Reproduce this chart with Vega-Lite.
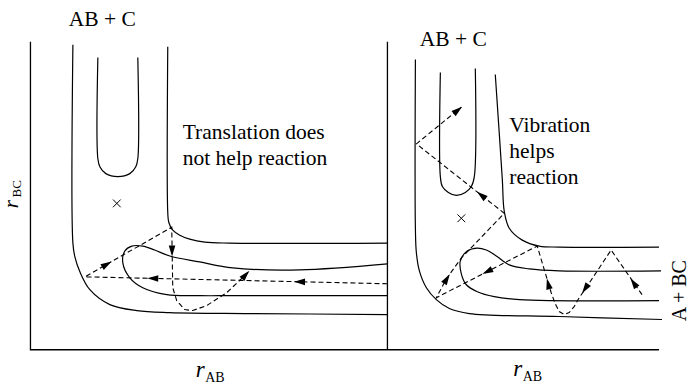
{
  "$schema": "https://vega.github.io/schema/vega-lite/v6.json",
  "width": 690,
  "height": 385,
  "padding": 0,
  "autosize": {"type": "fit", "contains": "padding"},
  "config": {"view": {"stroke": null}, "background": "white", "text": {"font": "Liberation Serif"}},
  "datasets": {
    "curves": [
      {"id": "L_outer", "i": 0, "x": 73, "y": 45}, {"id": "L_outer", "i": 1, "x": 73, "y": 245}, {"id": "L_outer", "i": 2, "x": 75, "y": 259}, {"id": "L_outer", "i": 3, "x": 80, "y": 274}, {"id": "L_outer", "i": 4, "x": 90, "y": 292}, {"id": "L_outer", "i": 5, "x": 110, "y": 307}, {"id": "L_outer", "i": 6, "x": 137, "y": 313}, {"id": "L_outer", "i": 7, "x": 170, "y": 315}, {"id": "L_outer", "i": 8, "x": 250, "y": 316}, {"id": "L_outer", "i": 9, "x": 388, "y": 317},
      {"id": "L_mid", "i": 0, "x": 168, "y": 47}, {"id": "L_mid", "i": 1, "x": 168, "y": 214}, {"id": "L_mid", "i": 2, "x": 169, "y": 224}, {"id": "L_mid", "i": 3, "x": 173, "y": 232}, {"id": "L_mid", "i": 4, "x": 180, "y": 237}, {"id": "L_mid", "i": 5, "x": 190, "y": 241}, {"id": "L_mid", "i": 6, "x": 205, "y": 244}, {"id": "L_mid", "i": 7, "x": 230, "y": 245}, {"id": "L_mid", "i": 8, "x": 388, "y": 245},
      {"id": "L_U", "i": 0, "x": 98, "y": 58}, {"id": "L_U", "i": 1, "x": 98, "y": 160}, {"id": "L_U", "i": 2, "x": 100, "y": 168}, {"id": "L_U", "i": 3, "x": 106, "y": 175}, {"id": "L_U", "i": 4, "x": 118, "y": 178}, {"id": "L_U", "i": 5, "x": 130, "y": 175}, {"id": "L_U", "i": 6, "x": 136, "y": 168}, {"id": "L_U", "i": 7, "x": 138, "y": 160}, {"id": "L_U", "i": 8, "x": 138, "y": 58},
      {"id": "L_loop", "i": 0, "x": 388, "y": 266}, {"id": "L_loop", "i": 1, "x": 300, "y": 272}, {"id": "L_loop", "i": 2, "x": 233, "y": 270}, {"id": "L_loop", "i": 3, "x": 200, "y": 264}, {"id": "L_loop", "i": 4, "x": 170, "y": 258}, {"id": "L_loop", "i": 5, "x": 155, "y": 252}, {"id": "L_loop", "i": 6, "x": 143, "y": 248}, {"id": "L_loop", "i": 7, "x": 132, "y": 248}, {"id": "L_loop", "i": 8, "x": 125, "y": 253}, {"id": "L_loop", "i": 9, "x": 123, "y": 265}, {"id": "L_loop", "i": 10, "x": 130, "y": 280}, {"id": "L_loop", "i": 11, "x": 143, "y": 290}, {"id": "L_loop", "i": 12, "x": 167, "y": 297}, {"id": "L_loop", "i": 13, "x": 200, "y": 298}, {"id": "L_loop", "i": 14, "x": 233, "y": 298}, {"id": "L_loop", "i": 15, "x": 388, "y": 298},
      {"id": "R_outer", "i": 0, "x": 416, "y": 60}, {"id": "R_outer", "i": 1, "x": 416, "y": 230}, {"id": "R_outer", "i": 2, "x": 417, "y": 255}, {"id": "R_outer", "i": 3, "x": 420, "y": 273}, {"id": "R_outer", "i": 4, "x": 427, "y": 290}, {"id": "R_outer", "i": 5, "x": 437, "y": 302}, {"id": "R_outer", "i": 6, "x": 450, "y": 311}, {"id": "R_outer", "i": 7, "x": 470, "y": 316}, {"id": "R_outer", "i": 8, "x": 560, "y": 319}, {"id": "R_outer", "i": 9, "x": 663, "y": 322},
      {"id": "R_mid", "i": 0, "x": 496, "y": 75}, {"id": "R_mid", "i": 1, "x": 503, "y": 180}, {"id": "R_mid", "i": 2, "x": 505, "y": 213}, {"id": "R_mid", "i": 3, "x": 510, "y": 230}, {"id": "R_mid", "i": 4, "x": 523, "y": 242}, {"id": "R_mid", "i": 5, "x": 540, "y": 248}, {"id": "R_mid", "i": 6, "x": 560, "y": 249}, {"id": "R_mid", "i": 7, "x": 660, "y": 249},
      {"id": "R_U", "i": 0, "x": 441, "y": 73}, {"id": "R_U", "i": 1, "x": 441, "y": 178}, {"id": "R_U", "i": 2, "x": 443, "y": 188}, {"id": "R_U", "i": 3, "x": 449, "y": 194}, {"id": "R_U", "i": 4, "x": 457, "y": 197}, {"id": "R_U", "i": 5, "x": 466, "y": 194}, {"id": "R_U", "i": 6, "x": 472, "y": 188}, {"id": "R_U", "i": 7, "x": 475, "y": 178}, {"id": "R_U", "i": 8, "x": 476, "y": 69},
      {"id": "R_loop", "i": 0, "x": 662, "y": 273}, {"id": "R_loop", "i": 1, "x": 560, "y": 273}, {"id": "R_loop", "i": 2, "x": 530, "y": 271}, {"id": "R_loop", "i": 3, "x": 510, "y": 267}, {"id": "R_loop", "i": 4, "x": 497, "y": 258}, {"id": "R_loop", "i": 5, "x": 487, "y": 252}, {"id": "R_loop", "i": 6, "x": 478, "y": 250}, {"id": "R_loop", "i": 7, "x": 468, "y": 253}, {"id": "R_loop", "i": 8, "x": 461, "y": 263}, {"id": "R_loop", "i": 9, "x": 462, "y": 276}, {"id": "R_loop", "i": 10, "x": 467, "y": 287}, {"id": "R_loop", "i": 11, "x": 478, "y": 294}, {"id": "R_loop", "i": 12, "x": 495, "y": 299}, {"id": "R_loop", "i": 13, "x": 520, "y": 302}, {"id": "R_loop", "i": 14, "x": 660, "y": 303}
    ],
    "frame": [
      {"id": "F1", "i": 0, "x": 30.5, "y": 42}, {"id": "F1", "i": 1, "x": 30.5, "y": 352.5}, {"id": "F1", "i": 2, "x": 660, "y": 352.5},
      {"id": "F2", "i": 0, "x": 388, "y": 42}, {"id": "F2", "i": 1, "x": 388, "y": 352.5}
    ],
    "paths": [
      {"id": "TL", "i": 0, "x": 388, "y": 286}, {"id": "TL", "i": 1, "x": 85, "y": 279}, {"id": "TL", "i": 2, "x": 172, "y": 229}, {"id": "TL", "i": 3, "x": 172.5, "y": 260}, {"id": "TL", "i": 4, "x": 173, "y": 290}, {"id": "TL", "i": 5, "x": 177, "y": 303}, {"id": "TL", "i": 6, "x": 185, "y": 312}, {"id": "TL", "i": 7, "x": 193, "y": 313}, {"id": "TL", "i": 8, "x": 207, "y": 308}, {"id": "TL", "i": 9, "x": 227, "y": 295}, {"id": "TL", "i": 10, "x": 250, "y": 273},
      {"id": "TR", "i": 0, "x": 643, "y": 297}, {"id": "TR", "i": 1, "x": 612, "y": 252}, {"id": "TR", "i": 2, "x": 585, "y": 293}, {"id": "TR", "i": 3, "x": 580, "y": 300}, {"id": "TR", "i": 4, "x": 575, "y": 309}, {"id": "TR", "i": 5, "x": 570, "y": 315}, {"id": "TR", "i": 6, "x": 565, "y": 317}, {"id": "TR", "i": 7, "x": 560, "y": 314}, {"id": "TR", "i": 8, "x": 556, "y": 306}, {"id": "TR", "i": 9, "x": 552, "y": 295}, {"id": "TR", "i": 10, "x": 549, "y": 285}, {"id": "TR", "i": 11, "x": 538, "y": 248}, {"id": "TR", "i": 12, "x": 437, "y": 300}, {"id": "TR", "i": 13, "x": 447, "y": 281}, {"id": "TR", "i": 14, "x": 462, "y": 260}, {"id": "TR", "i": 15, "x": 505, "y": 215}, {"id": "TR", "i": 16, "x": 417, "y": 145}, {"id": "TR", "i": 17, "x": 462, "y": 108}
    ],
    "arrows": [
      {"x": 300, "y": 284, "a": -89},
      {"x": 153, "y": 280.6, "a": -89},
      {"x": 107, "y": 266.4, "a": 60},
      {"x": 172.3, "y": 253, "a": 180},
      {"x": 246, "y": 277, "a": 42},
      {"x": 634.5, "y": 285, "a": -35},
      {"x": 586, "y": 291, "a": -146},
      {"x": 549, "y": 286, "a": -14},
      {"x": 488, "y": 273.7, "a": -117},
      {"x": 447.5, "y": 281, "a": 32},
      {"x": 482, "y": 196.7, "a": -51.5},
      {"x": 458.5, "y": 111, "a": 50.6}
    ],
    "marks": [
      {"x": 117, "y": 205},
      {"x": 462, "y": 220}
    ],
    "centered": [
      {"t": "AB + C", "x": 102.5, "y": 26},
      {"t": "AB + C", "x": 454, "y": 46}
    ],
    "lefts": [
      {"t": "Translation does", "x": 183, "y": 140},
      {"t": "not help reaction", "x": 183, "y": 166},
      {"t": "Vibration", "x": 510, "y": 133},
      {"t": "helps", "x": 510, "y": 159},
      {"t": "reaction", "x": 510, "y": 185}
    ],
    "rs": [
      {"t": "r", "x": 196, "y": 379.5},
      {"t": "r", "x": 514, "y": 379}
    ],
    "subs": [
      {"t": "AB", "x": 205.5, "y": 384.5},
      {"t": "AB", "x": 523.5, "y": 384}
    ]
  },
  "encoding": {
    "x": {"field": "x", "type": "quantitative", "scale": {"domain": [0, 690], "nice": false, "zero": false}, "axis": null},
    "y": {"field": "y", "type": "quantitative", "scale": {"domain": [0, 385], "nice": false, "zero": false, "reverse": true}, "axis": null}
  },
  "layer": [
    {
      "data": {"name": "frame"},
      "mark": {"type": "line", "color": "black", "strokeWidth": 1.3, "interpolate": "linear"},
      "encoding": {"detail": {"field": "id"}, "order": {"field": "i", "type": "quantitative"}}
    },
    {
      "data": {"name": "curves"},
      "mark": {"type": "line", "color": "black", "strokeWidth": 1.2, "interpolate": "catmull-rom"},
      "encoding": {"detail": {"field": "id"}, "order": {"field": "i", "type": "quantitative"}}
    },
    {
      "data": {"name": "paths"},
      "mark": {"type": "line", "color": "black", "strokeWidth": 1.1, "strokeDash": [5, 3], "interpolate": "linear"},
      "encoding": {"detail": {"field": "id"}, "order": {"field": "i", "type": "quantitative"}}
    },
    {
      "data": {"name": "arrows"},
      "mark": {"type": "point", "shape": "M0,-1L0.6,1L-0.6,1Z", "filled": true, "color": "black", "size": 120, "opacity": 1},
      "encoding": {"angle": {"field": "a", "type": "quantitative", "scale": null}}
    },
    {
      "data": {"name": "marks"},
      "mark": {"type": "point", "shape": "M-1,-1L1,1M-1,1L1,-1", "filled": false, "color": "black", "strokeWidth": 1, "size": 60, "opacity": 1}
    },
    {
      "data": {"name": "centered"},
      "mark": {"type": "text", "font": "Liberation Serif", "fontSize": 21.5, "align": "center", "baseline": "alphabetic", "color": "black"},
      "encoding": {"text": {"field": "t"}}
    },
    {
      "data": {"name": "lefts"},
      "mark": {"type": "text", "font": "Liberation Serif", "fontSize": 21.5, "align": "left", "baseline": "alphabetic", "color": "black"},
      "encoding": {"text": {"field": "t"}}
    },
    {
      "data": {"name": "rs"},
      "mark": {"type": "text", "font": "Liberation Serif", "fontSize": 23, "fontStyle": "italic", "align": "left", "baseline": "alphabetic", "color": "black"},
      "encoding": {"text": {"field": "t"}}
    },
    {
      "data": {"name": "subs"},
      "mark": {"type": "text", "font": "Liberation Serif", "fontSize": 14, "align": "left", "baseline": "alphabetic", "color": "black"},
      "encoding": {"text": {"field": "t"}}
    },
    {
      "data": {"values": [{"t": "r", "x": 18.5, "y": 210}]},
      "mark": {"type": "text", "font": "Liberation Serif", "fontSize": 21, "fontStyle": "italic", "align": "left", "baseline": "alphabetic", "angle": 270, "color": "black"},
      "encoding": {"text": {"field": "t"}}
    },
    {
      "data": {"values": [{"t": "BC", "x": 21, "y": 199}]},
      "mark": {"type": "text", "font": "Liberation Serif", "fontSize": 13, "align": "left", "baseline": "alphabetic", "angle": 270, "color": "black"},
      "encoding": {"text": {"field": "t"}}
    },
    {
      "data": {"values": [{"t": "A + BC", "x": 687, "y": 293}]},
      "mark": {"type": "text", "font": "Liberation Serif", "fontSize": 20, "align": "center", "baseline": "alphabetic", "angle": 270, "color": "black"},
      "encoding": {"text": {"field": "t"}}
    }
  ]
}
